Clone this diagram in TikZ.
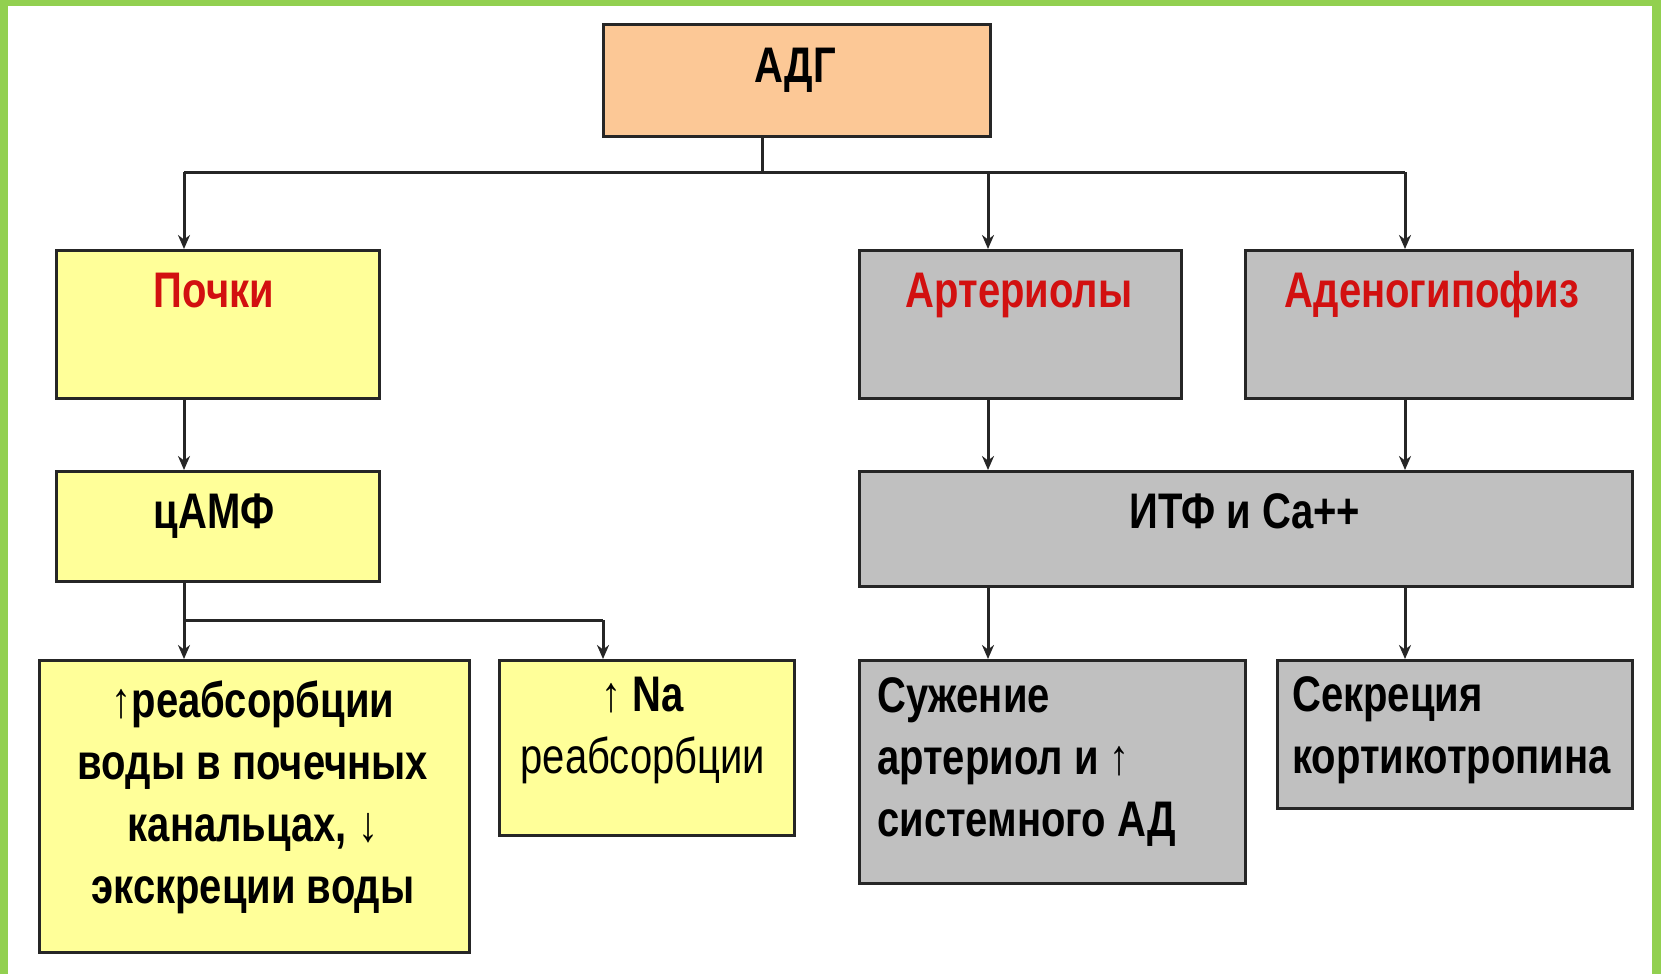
\documentclass[tikz,border=0pt]{standalone}
\usepackage{fontspec}
\setmainfont{Liberation Sans}[FakeStretch=0.8]
\usetikzlibrary{arrows.meta}
\definecolor{frame}{RGB}{146,208,80}
\definecolor{peach}{RGB}{252,200,150}
\definecolor{lyel}{RGB}{255,255,153}
\definecolor{lgray}{RGB}{192,192,192}
\definecolor{tred}{RGB}{210,16,16}
\newcommand{\up}{{\mdseries ↑}}
\newcommand{\dn}{{\mdseries ↓}}
\begin{document}
\begin{tikzpicture}[x=1pt,y=-1pt,
 box/.style={draw=black!85, line width=3.2pt, inner sep=0pt, anchor=north west},
 conn/.style={line width=3pt, draw=black!85},
 arr/.style={conn, -{Stealth[length=14pt,width=12pt]}},
 lbl/.style={font=\bfseries\fontsize{50}{62}\selectfont, inner sep=0pt},
 title/.style={lbl, text=tred}]
\fill[white] (0,0) rectangle (1661,974);
\useasboundingbox (0,0) rectangle (1661,974);
\fill[frame] (0,0) rectangle (8,974);
\fill[frame] (1652,0) rectangle (1661,974);
\fill[frame] (0,0) rectangle (1661,6);
% boxes
\node[box, fill=peach, minimum width=387pt, minimum height=112pt] (adg) at (602,23) {};
\node[box, fill=lyel, minimum width=323pt, minimum height=148pt] (pochki) at (55,249) {};
\node[box, fill=lgray, minimum width=322pt, minimum height=148pt] (art) at (858,249) {};
\node[box, fill=lgray, minimum width=387pt, minimum height=148pt] (aden) at (1244,249) {};
\node[box, fill=lyel, minimum width=323pt, minimum height=110pt] (camp) at (55,470) {};
\node[box, fill=lgray, minimum width=773pt, minimum height=115pt] (itf) at (858,470) {};
\node[box, fill=lyel, minimum width=430pt, minimum height=292pt] (reab) at (38,659) {};
\node[box, fill=lyel, minimum width=295pt, minimum height=175pt] (na) at (498,659) {};
\node[box, fill=lgray, minimum width=386pt, minimum height=223pt] (suzh) at (858,659) {};
\node[box, fill=lgray, minimum width=355pt, minimum height=148pt] (sekr) at (1276,659) {};
% texts
\node[lbl, anchor=base] (tadg) at (795,82) {АДГ};
\node[title, anchor=base] (tpochki) at (214,307) {Почки};
\node[title, anchor=base] (tart) at (1019,307) {Артериолы};
\node[title, anchor=base] (taden) at (1432,307) {Аденогипофиз};
\node[lbl, anchor=base] (tcamp) at (214,528) {цАМФ};
\node[lbl, anchor=base] (titf) at (1245,528) {ИТФ и Ca++};
\node[lbl, align=center] (treab) at (253,797) {\up реабсорбции\\воды в почечных\\канальцах, \dn\\экскреции воды};
\node[lbl, align=center] (tna) at (643,730) {\up\ Na\\{\mdseries реабсорбции}};
\node[lbl, align=left, anchor=west] (tsuzh) at (877,762) {Сужение\\артериол и \up\\системного АД};
\node[lbl, align=left, anchor=west] (tsekr) at (1292,730) {Секреция\\кортикотропина};
% connectors
\coordinate (bus) at (762,172);
\coordinate (xP) at (184,0);
\coordinate (xA) at (988,0);
\coordinate (xD) at (1405,0);
\coordinate (xN) at (603,0);
\coordinate (bus2) at (184,620);
\draw[conn] (adg.south -| bus) -- (bus);
\draw[conn] (bus -| xP) -- (bus -| xD);
\draw[arr] (bus -| xP) -- (pochki.north -| xP);
\draw[arr] (bus -| xA) -- (art.north -| xA);
\draw[arr] (bus -| xD) -- (aden.north -| xD);
\draw[arr] (pochki.south -| xP) -- (camp.north -| xP);
\draw[arr] (art.south -| xA) -- (itf.north -| xA);
\draw[arr] (aden.south -| xD) -- (itf.north -| xD);
\draw[conn] (camp.south -| xP) -- (bus2) -- (bus2 -| xN);
\draw[arr] (bus2) -- (reab.north -| xP);
\draw[arr] (bus2 -| xN) -- (na.north -| xN);
\draw[arr] (itf.south -| xA) -- (suzh.north -| xA);
\draw[arr] (itf.south -| xD) -- (sekr.north -| xD);
\end{tikzpicture}
\end{document}
